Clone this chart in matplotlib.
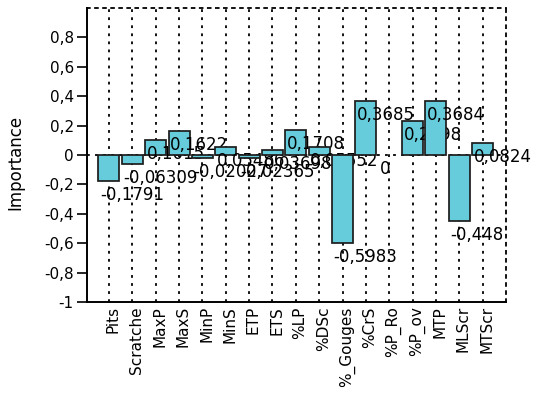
import matplotlib
matplotlib.use("Agg")
import matplotlib.pyplot as plt
import matplotlib.transforms as mtransforms

plt.rcParams['font.family'] = ['DejaVu Sans']
plt.rcParams['lines.scale_dashes'] = False

categories = ['Pits', 'Scratche', 'MaxP', 'MaxS', 'MinP', 'MinS', 'ETP', 'ETS', '%LP',
              '%DSc', '%_Gouges', '%CrS', '%P_Ro', '%P_ov', 'MTP', 'MLScr', 'MTScr']
importance = [-0.1791, -0.06309, 0.1015, 0.1622, -0.02027, 0.05486, -0.02365, 0.03698,
              0.1708, 0.05552, -0.5983, 0.3685, 0.0, 0.2298, 0.3684, -0.448, 0.0824]
ytick_values = [-1, -0.8, -0.6, -0.4, -0.2, 0, 0.2, 0.4, 0.6, 0.8]
ytick_labels = ['-1', '-0,8', '-0,6', '-0,4', '-0,2', '0', '0,2', '0,4', '0,6', '0,8']

bar_color = '#66CCDB'
edge_color = '#1c1c1c'
dots = (0, (2.0, 3.8))


def fmt(v):
    s = f"{v:.4g}"
    return s.replace('.', ',')


fig = plt.figure(figsize=(5.34, 3.98), dpi=100)
ax = fig.add_axes([0.1629, 0.2412, 0.7847, 0.7387])

n = len(categories)
xs = list(range(n))

# vertical dotted grid lines and zero line
for x in xs:
    ax.axvline(x, color='black', lw=1.3, linestyle=dots, zorder=0.5)
ax.axhline(0, color='black', lw=1.3, linestyle=dots, zorder=0.5)

for i, (x, v) in enumerate(zip(xs, importance)):
    ax.bar(x, v, width=0.9, color=bar_color, edgecolor=edge_color,
           linewidth=1.25 if v != 0 else 0, zorder=2 + 2 * i)
    ax.annotate(fmt(v), xy=(x, v), xytext=(-6.5, -3.6), textcoords='offset points',
                ha='left', va='top', fontsize=12, color='black', zorder=3 + 2 * i)

ax.set_xlim(-0.94, n)
ax.set_ylim(-1, 1)

ax.set_yticks(ytick_values)
ax.set_yticklabels(ytick_labels, fontsize=11)
ax.tick_params(axis='y', length=7, width=1.2, pad=2.5, direction='out')

ax.set_xticks(xs)
ax.set_xticklabels(categories, rotation=90, fontsize=11)
ax.tick_params(axis='x', length=0, pad=3)
offset = mtransforms.ScaledTranslation(3 / 72, 0, fig.dpi_scale_trans)
for lab in ax.get_xticklabels():
    lab.set_transform(lab.get_transform() + offset)

for side in ['left', 'bottom']:
    ax.spines[side].set_linewidth(1.4)
    ax.spines[side].set_color('black')
for side in ['top', 'right']:
    ax.spines[side].set_linewidth(1.3)
    ax.spines[side].set_linestyle(dots)
    ax.spines[side].set_color('black')

ax.set_ylabel('Importance', fontsize=12)
ax.yaxis.set_label_coords(-0.15, 0.476)

fig.savefig('out.png', dpi=100)
